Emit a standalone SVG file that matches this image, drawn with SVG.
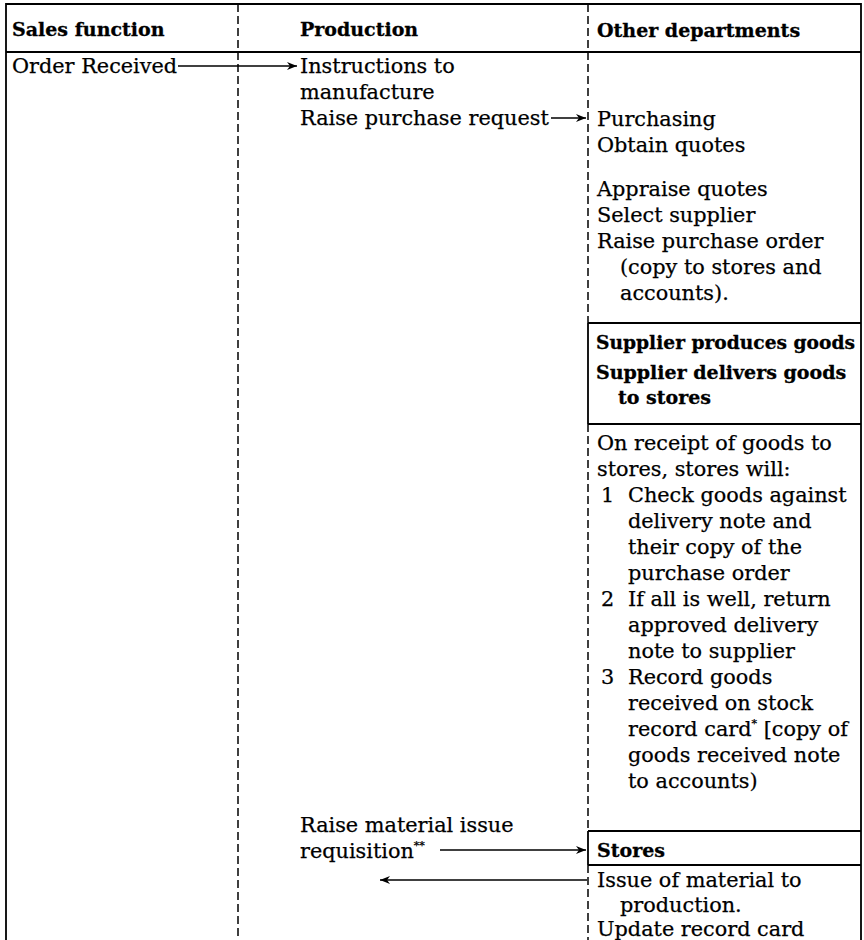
<svg xmlns="http://www.w3.org/2000/svg" width="864" height="940" viewBox="0 0 864 940">
  <style>
    text { font-family: "DejaVu Serif", "Liberation Serif", serif; font-size: 20.8px; fill: #000; stroke: #000; stroke-width: 0.25; }
    .b { font-weight: bold; font-size: 19px; stroke-width: 0.3; }
    .sup { font-size: 11px; }
    .frame { stroke: #000; stroke-width: 1.8; fill: none; }
    .dash { stroke: #000; stroke-width: 1.5; stroke-dasharray: 8 4; fill: none; }
    .conn { stroke: #000; stroke-width: 1.4; fill: none; marker-end: url(#arr); }
  </style>
  <defs>
    <marker id="arr" viewBox="0 0 10 8" refX="10" refY="4" markerWidth="11" markerHeight="8" markerUnits="userSpaceOnUse" orient="auto">
      <path d="M0,0 L10,4 L0,8 L3,4 Z" fill="#000"/>
    </marker>
  </defs>
  <rect width="864" height="940" fill="#fff"/>

  <!-- table frame -->
  <g id="frame">
    <path class="frame" d="M6,940 V4 H861 V940"/>
    <path class="frame" d="M6,52 H861"/>
    <!-- column dividers -->
    <path class="dash" d="M238,4 V940"/>
    <path class="dash" d="M588,4 V323"/>
    <path class="dash" d="M588,424 V831"/>
    <path class="dash" d="M588,865 V940"/>
    <!-- boxed sections in the right column -->
    <path class="frame" d="M588,323 H861 M588,323 V424 M588,424 H861"/>
    <path class="frame" d="M588,831 H861 M588,831 V865 M588,865 H861"/>
  </g>

  <!-- column headings -->
  <g id="headings">
    <text class="b" x="12" y="36">Sales function</text>
    <text class="b" x="300" y="36">Production</text>
    <text class="b" x="597" y="37">Other departments</text>
  </g>

  <g id="order-received">
    <text x="12" y="73">Order Received</text>
  </g>

  <g id="instructions">
    <text x="300" y="73">Instructions to</text>
    <text x="300" y="99">manufacture</text>
  </g>

  <g id="purchase-request">
    <text x="300" y="125">Raise purchase request</text>
  </g>

  <g id="purchasing">
    <text x="597" y="126">Purchasing</text>
    <text x="597" y="152">Obtain quotes</text>
    <text x="597" y="196">Appraise quotes</text>
    <text x="597" y="222">Select supplier</text>
    <text x="597" y="248">Raise purchase order</text>
    <text x="620" y="274">(copy to stores and</text>
    <text x="620" y="300">accounts).</text>
  </g>

  <g id="supplier">
    <text class="b" x="596" y="349" textLength="259" lengthAdjust="spacingAndGlyphs">Supplier produces goods</text>
    <text class="b" x="596" y="379">Supplier delivers goods</text>
    <text class="b" x="618" y="404">to stores</text>
  </g>

  <g id="goods-receipt">
    <text x="597" y="450">On receipt of goods to</text>
    <text x="597" y="476">stores, stores will:</text>
    <text x="601" y="502">1</text>
    <text x="628" y="502">Check goods against</text>
    <text x="628" y="528">delivery note and</text>
    <text x="628" y="554">their copy of the</text>
    <text x="628" y="580">purchase order</text>
    <text x="601" y="606">2</text>
    <text x="628" y="606">If all is well, return</text>
    <text x="628" y="632">approved delivery</text>
    <text x="628" y="658">note to supplier</text>
    <text x="601" y="684">3</text>
    <text x="628" y="684">Record goods</text>
    <text x="628" y="710">received on stock</text>
    <text x="628" y="736">record card<tspan class="sup" dy="-9">*</tspan><tspan dy="9"> [copy of</tspan></text>
    <text x="628" y="762">goods received note</text>
    <text x="628" y="788">to accounts)</text>
  </g>

  <g id="requisition">
    <text x="300" y="832">Raise material issue</text>
    <text x="300" y="858">requisition<tspan class="sup" dy="-9">**</tspan></text>
  </g>

  <g id="stores">
    <text class="b" x="597" y="857">Stores</text>
  </g>

  <g id="issue">
    <text x="597" y="887">Issue of material to</text>
    <text x="620" y="912">production.</text>
    <text x="597" y="936">Update record card</text>
  </g>

  <!-- connectors -->
  <g id="connectors">
    <path class="conn" d="M178,66 H297"/>
    <path class="conn" d="M551,118 H586"/>
    <path class="conn" d="M440,850 H586"/>
    <path class="conn" d="M587,880 H380"/>
  </g>
</svg>
